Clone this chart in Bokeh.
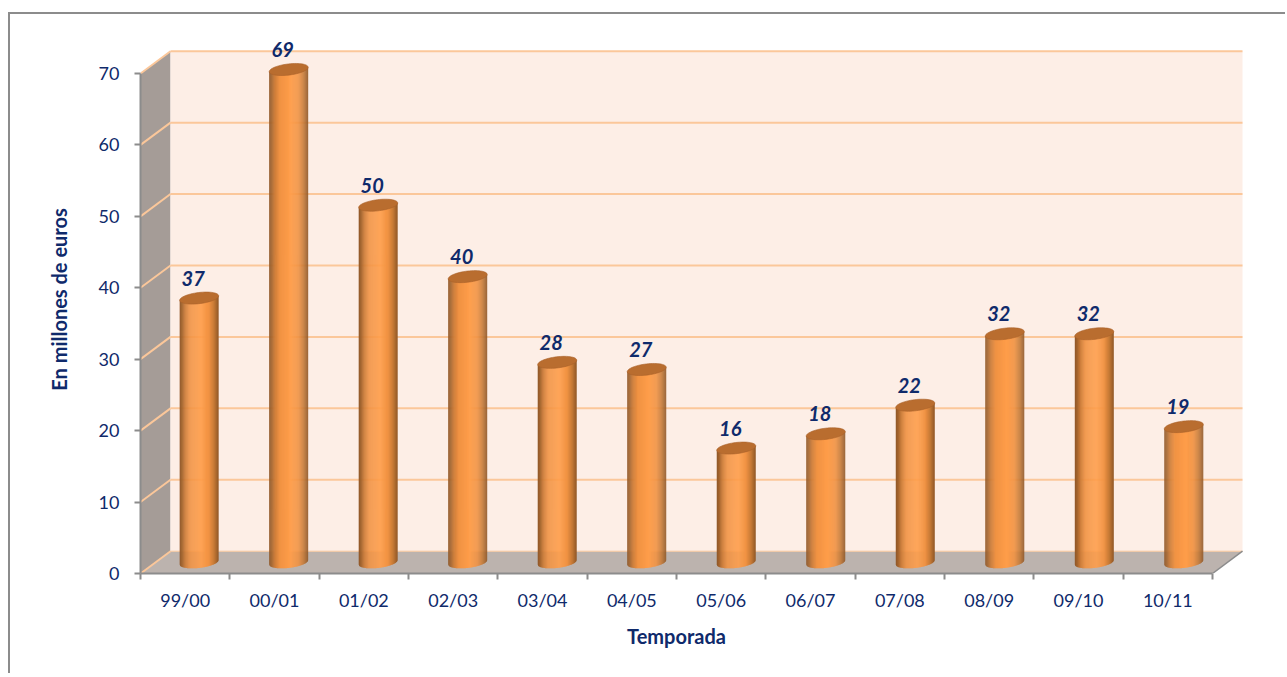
import numpy as np
from bokeh.core.properties import value
from bokeh.embed import file_html
from bokeh.models import ColumnDataSource, FixedTicker, LinearAxis, Range1d
from bokeh.plotting import figure
from bokeh.resources import INLINE

seasons = ["99/00", "00/01", "01/02", "02/03", "03/04", "04/05", "05/06", "06/07", "07/08", "08/09", "09/10", "10/11"]
amounts = [37, 69, 50, 40, 28, 27, 16, 18, 22, 32, 32, 19]
y_ticks = [0, 10, 20, 30, 40, 50, 60, 70]

TEXT = "#0f2a6b"
GRID = "#fbc79a"
AXIS = "#8c8c8c"
FONT = "Lato"

W, H = 1277, 661
L, R, T, B = 130, 1234, 11, 559  # frame edges inside the figure
PX = 1072 / 12
PY = 500 / 70
DX = 30 / PX
DY = 22.3 / PY
YMAX = 70
n = len(seasons)

p = figure(width=W, height=H, output_backend="svg", toolbar_location=None,
           x_range=Range1d(0, (R - L) / PX), y_range=Range1d(0, (B - T) / PY),
           min_border_left=L, min_border_right=W - R, min_border_top=T, min_border_bottom=H - B,
           margin=(12, 0, 0, 8),
           styles={"border-top": "2px solid #8c8c8c", "border-left": "2px solid #8c8c8c"})
p.xaxis.visible = False
p.yaxis.visible = False
p.grid.visible = False
p.outline_line_color = None
p.background_fill_color = "white"

# side wall, floor, back wall
p.patch([0, DX, DX, 0], [0, DY, YMAX + DY, YMAX], fill_color="#a59c97", line_color=None)
p.patch([0, n, n + DX, DX], [0, 0, DY, DY], fill_color="#bcb3ae", line_color=None)
p.quad(left=[DX], right=[n + DX], bottom=[DY], top=[YMAX + DY], fill_color="#fdeee6", line_color=None)

# gridlines on back wall and side wall
for v in y_ticks:
    if v > 0:
        p.line([DX, n + DX], [v + DY, v + DY], line_color=GRID, line_width=2)
    p.line([0, DX], [v, v + DY], line_color=GRID, line_width=2)
p.line([DX, n + DX], [DY, DY], line_color=GRID, line_width=1)
p.line([n, n + DX], [0, DY], line_color=AXIS, line_width=1.5)

# cylinders
stops = [0.0, 0.06, 0.15, 0.27, 0.55, 0.75, 0.88, 1.0]
cols = np.array([(0x8e, 0x56, 0x28), (0xa3, 0x63, 0x2c), (0xcf, 0x7d, 0x38), (0xf0, 0x92, 0x43),
                 (0xff, 0x9e, 0x4a), (0xf0, 0x92, 0x43), (0xc6, 0x7a, 0x36), (0x8f, 0x57, 0x28)], dtype=float)
BW = 39.0 / PX
BH = 5.6 / PY
TILT = 2.2 / PY
NS = 40


def centre(i):
    return i + 0.5 + DX / 2 - 1 / PX + i * 0.002


def shade(u):
    c = [np.interp(u, stops, cols[:, i]) for i in range(3)]
    return "#%02x%02x%02x" % tuple(int(round(x)) for x in c)


xs_all, ys_all, fills = [], [], []
for i, v in enumerate(amounts):
    cx = centre(i)
    cy = DY / 2
    for k in range(NS):
        e = np.linspace(k / NS, (k + 1) / NS + 0.008, 4)
        s = np.clip(2 * e - 1, -1, 1)
        low = cy + TILT * s - BH * np.sqrt(1 - s ** 2)
        up = v + cy + TILT * s
        xx = cx + s * BW / 2
        xs_all.append(list(xx) + list(xx[::-1]))
        ys_all.append(list(low) + list(up[::-1]))
        fills.append(shade((k + 0.5) / NS))
p.patches(xs_all, ys_all, fill_color=fills, line_color=None)

tx, ty = [], []
for i, v in enumerate(amounts):
    cx = centre(i)
    cy = DY / 2 + v
    t = np.linspace(0, 2 * np.pi, 60)
    s = np.cos(t)
    tx.append(list(cx + s * BW / 2))
    ty.append(list(cy + TILT * s + BH * np.sin(t)))
p.patches(tx, ty, fill_color="#b96d2f", line_color="#a9622a", line_width=0.6)

# value labels
src = ColumnDataSource(dict(
    x=[centre(i) for i in range(n)],
    y=[v + DY / 2 for v in amounts],
    t=[str(v) for v in amounts]))
p.text("x", "y", text="t", source=src, text_font=value(FONT), text_font_size="20px",
       text_font_style="bold italic", text_color=TEXT, text_align="center", text_baseline="middle",
       x_offset=-6, y_offset=-20)

# axes
yax = LinearAxis(bounds=(0, 70), ticker=FixedTicker(ticks=y_ticks), axis_label="En millones de euros",
                 axis_label_text_font=FONT, axis_label_text_font_size="20px", axis_label_text_font_style="bold",
                 axis_label_text_color=TEXT, axis_label_standoff=25,
                 major_label_text_font=FONT, major_label_text_font_size="18px", major_label_text_color=TEXT,
                 major_tick_out=6, major_tick_in=0, minor_tick_out=0, minor_tick_in=0,
                 axis_line_color=AXIS, axis_line_width=2, major_tick_line_color=AXIS, major_tick_line_width=2,
                 major_label_standoff=15)
p.add_layout(yax, "left")

xedge = LinearAxis(bounds=(0, n), ticker=FixedTicker(ticks=list(range(n + 1))),
                   major_label_text_font_size="0px", major_tick_out=6, major_tick_in=0,
                   minor_tick_out=0, minor_tick_in=0, axis_line_color=AXIS, axis_line_width=2,
                   major_tick_line_color=AXIS, major_tick_line_width=2, major_label_standoff=0,
                   major_label_overrides={i: "" for i in range(n + 1)})
xlab = LinearAxis(bounds=(0, n), ticker=FixedTicker(ticks=[i + 0.5 for i in range(n)]),
                  major_label_overrides={i + 0.5: s for i, s in enumerate(seasons)},
                  major_label_text_font=FONT, major_label_text_font_size="18px", major_label_text_color=TEXT,
                  major_tick_out=0, major_tick_in=0, minor_tick_out=0, minor_tick_in=0,
                  axis_line_color=None, major_label_standoff=9)
xtitle = LinearAxis(bounds=(0, n), ticker=FixedTicker(ticks=[n / 2]),
                    major_label_overrides={n / 2: "Temporada"},
                    major_label_text_font=FONT, major_label_text_font_size="20px",
                    major_label_text_font_style="bold", major_label_text_color=TEXT,
                    major_tick_out=0, major_tick_in=0, minor_tick_out=0, minor_tick_in=0,
                    axis_line_color=None, major_label_standoff=10)
p.add_layout(xlab, "below")
p.add_layout(xtitle, "below")
p.below.insert(0, xedge)

open("out.html", "w").write(file_html(p, INLINE))
